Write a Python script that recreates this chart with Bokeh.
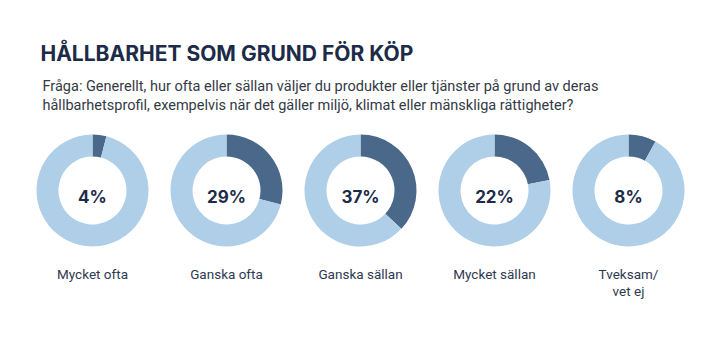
import math
from bokeh.plotting import figure
from bokeh.models import Range1d
from bokeh.core.properties import value
from bokeh.embed import file_html
from bokeh.resources import INLINE

title = "HÅLLBARHET SOM GRUND FÖR KÖP"
subtitle = ["Fråga: Generellt, hur ofta eller sällan väljer du produkter eller tjänster på grund av deras",
            "hållbarhetsprofil, exempelvis när det gäller miljö, klimat eller mänskliga rättigheter?"]
categories = ["Mycket ofta", "Ganska ofta", "Ganska sällan", "Mycket sällan", "Tveksam/\nvet ej"]
values = [4, 29, 37, 22, 8]

DARK = "#4a6889"
LIGHT = "#aecfe7"
NAVY = "#1c2b48"
TEXT = "#2e3a50"

W, H = 704, 344
p = figure(width=W, height=H, output_backend="svg", toolbar_location=None,
           x_range=Range1d(0, W), y_range=Range1d(H + 3, 3), min_border=0,
           outline_line_color=None)
p.axis.visible = False
p.grid.visible = False
p.background_fill_color = "white"
p.border_fill_color = "white"

cx0, dx, cy = 92, 134, 193
r_out, r_in = 56, 34
n = len(values)
xs = [cx0 + i * dx for i in range(n)]
ys = [cy] * n
top = math.pi / 2
cut = [top - 2 * math.pi * v / 100 for v in values]

# angles are in screen orientation: dark share runs clockwise from 12 o'clock
p.annular_wedge(x=xs, y=ys, inner_radius=r_in, outer_radius=r_out,
                start_angle=cut, end_angle=[top] * n, direction="anticlock",
                fill_color=DARK, line_color=None,
                inner_radius_units="screen", outer_radius_units="screen")
p.annular_wedge(x=xs, y=ys, inner_radius=r_in, outer_radius=r_out,
                start_angle=[top] * n, end_angle=[c + 2 * math.pi for c in cut], direction="anticlock",
                fill_color=LIGHT, line_color=None,
                inner_radius_units="screen", outer_radius_units="screen")

p.text(x=xs, y=[199] * n, text=[f"{v}%" for v in values], text_align="center", text_baseline="alphabetic",
       text_font=value("Inter"), text_font_style="bold", text_font_size="17px", text_color=NAVY)

line1 = [c.split("\n")[0] for c in categories]
p.text(x=xs, y=[276.5] * n, text=line1, text_align="center", text_baseline="alphabetic",
       text_font=value("Roboto"), text_font_size="13.5px", text_color=TEXT)
x2 = [x for x, c in zip(xs, categories) if "\n" in c]
line2 = [c.split("\n")[1] for c in categories if "\n" in c]
p.text(x=x2, y=[293] * len(x2), text=line2, text_align="center", text_baseline="alphabetic",
       text_font=value("Roboto"), text_font_size="13.5px", text_color=TEXT)

p.text(x=[40], y=[56], text=[title], text_align="left", text_baseline="alphabetic",
       text_font=value("Inter"), text_font_style="bold", text_font_size="21px", text_color=NAVY)
p.text(x=[42, 42], y=[89, 108], text=subtitle, text_align="left", text_baseline="alphabetic",
       text_font=value("Roboto"), text_font_size="14.5px", text_color="#333a45")

open("out.html", "w").write(file_html(p, INLINE))
